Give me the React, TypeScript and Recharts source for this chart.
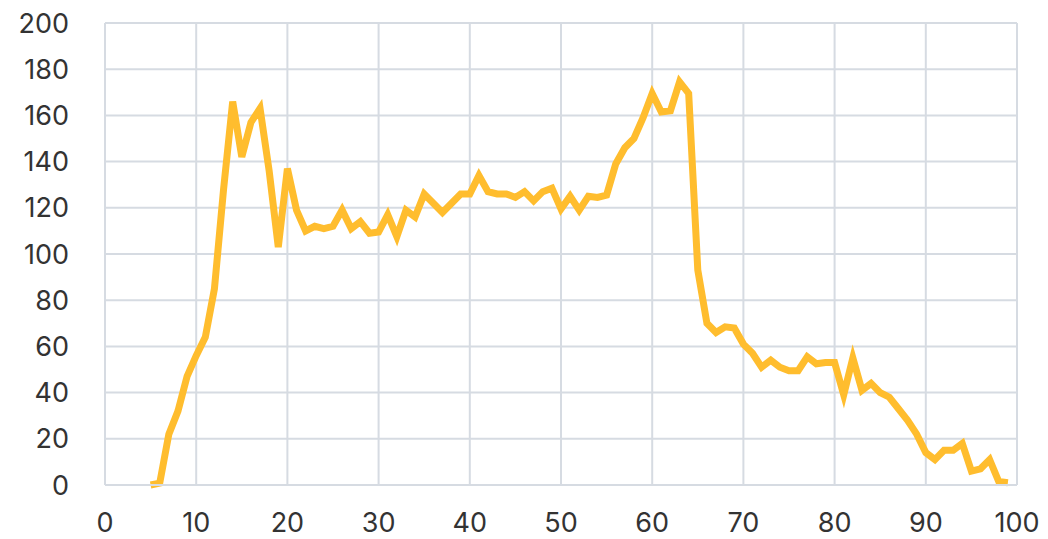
import { LineChart, Line, XAxis, YAxis, CartesianGrid } from "recharts";

// x positions (one reading per integer step)
const xValues = [
  5, 6, 7, 8, 9, 10, 11, 12, 13, 14, 15, 16, 17, 18, 19, 20, 21, 22, 23, 24,
  25, 26, 27, 28, 29, 30, 31, 32, 33, 34, 35, 36, 37, 38, 39, 40, 41, 42, 43,
  44, 45, 46, 47, 48, 49, 50, 51, 52, 53, 54, 55, 56, 57, 58, 59, 60, 61, 62,
  63, 64, 65, 66, 67, 68, 69, 70, 71, 72, 73, 74, 75, 76, 77, 78, 79, 80, 81,
  82, 83, 84, 85, 86, 87, 88, 89, 90, 91, 92, 93, 94, 95, 96, 97, 98, 99,
];

// values
const yValues = [
  0, 0.8, 22, 32, 47, 56, 64, 85, 128, 166, 142, 157, 163, 136, 103, 137, 119,
  110, 112, 111, 112, 119, 111, 114, 109, 109.5, 117, 107.5, 119, 116, 126, 122,
  118, 122, 126, 126, 134, 127, 126, 126, 124.5, 127, 123, 127, 128.5, 119.5,
  125, 119, 125, 124.5, 125.5, 139, 146, 150, 159, 169.5, 161.5, 162, 174.5,
  169.5, 93, 70, 66, 68.5, 68, 61, 57, 51, 54, 51, 49.5, 49.5, 55.5, 52.5, 53,
  53, 39, 55, 41, 44, 40, 38, 33, 28, 22, 14, 11, 15, 15, 18, 6, 7, 11, 1.5, 1,
];

const xTicks = [0, 10, 20, 30, 40, 50, 60, 70, 80, 90, 100];
const yTicks = [0, 20, 40, 60, 80, 100, 120, 140, 160, 180, 200];

const data = xValues.map((x, i) => ({ x, y: yValues[i] }));

const gridColor = "#d6dbe2";
const tickStyle = { fontSize: 27, fill: "#333333", fontFamily: "Inter, sans-serif" };

export default function App() {
  return (
    <LineChart
      width={1040}
      height={531}
      data={data}
      margin={{ top: 15, right: 31, bottom: 0, left: 0 }}
    >
      <CartesianGrid stroke={gridColor} strokeWidth={2} />
      <XAxis
        type="number"
        dataKey="x"
        domain={[0, 100]}
        ticks={xTicks}
        interval={0}
        height={54}
        tickLine={false}
        tickMargin={22}
        axisLine={{ stroke: gridColor, strokeWidth: 2 }}
        tick={tickStyle}
      />
      <YAxis
        type="number"
        domain={[0, 200]}
        ticks={yTicks}
        interval={0}
        width={97}
        tickLine={false}
        tickMargin={30}
        axisLine={{ stroke: gridColor, strokeWidth: 2 }}
        tick={tickStyle}
      />
      <Line
        type="linear"
        dataKey="y"
        stroke="#FFBD2E"
        strokeWidth={7}
        dot={false}
        isAnimationActive={false}
      />
    </LineChart>
  );
}
